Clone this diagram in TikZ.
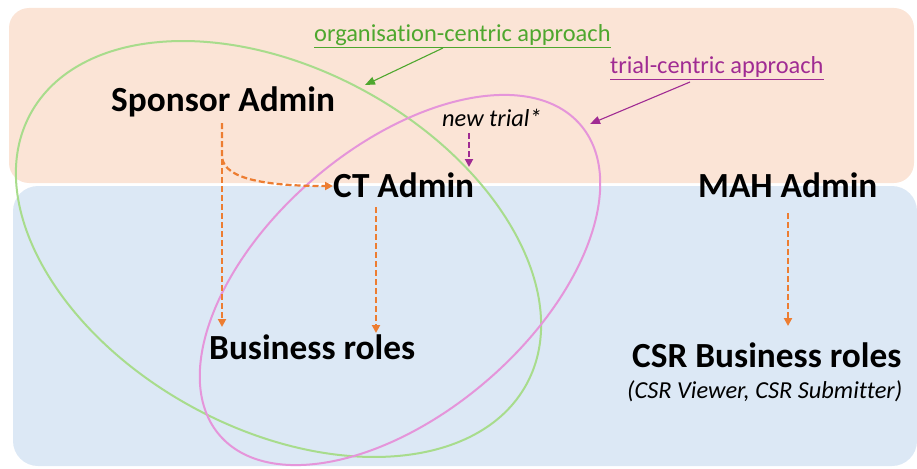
\documentclass[tikz,border=0pt]{standalone}
\usepackage{fontspec}
\setmainfont[Ligatures={NoCommon}]{Carlito}
\usetikzlibrary{arrows.meta}
\definecolor{peach}{HTML}{FBE4D6}
\definecolor{lblue}{HTML}{DCE8F5}
\definecolor{ogreen}{HTML}{A8DC8C}
\definecolor{opink}{HTML}{E595DA}
\definecolor{lgreen}{HTML}{4EA72E}
\definecolor{lpurple}{HTML}{A02B93}
\definecolor{oorange}{HTML}{ED7D31}
\begin{document}
\begin{tikzpicture}[x=1pt,y=-1pt,
  bigtxt/.style={inner sep=0pt, anchor=base west, font=\fontsize{35.3}{40}\selectfont\bfseries},
  smalltxt/.style={inner sep=0pt, anchor=base west, font=\fontsize{24.4}{28}\selectfont},
  oval/.style={line width=2pt},
  oarrow/.style={draw=oorange, line width=2.2pt, dash pattern=on 6pt off 3pt, -{Triangle[length=8pt,width=8pt]}},
  parrow/.style={draw=lpurple, line width=2.2pt, dash pattern=on 6pt off 3pt, -{Triangle[length=8pt,width=8pt]}},
  thinarrow/.style={line width=1.1pt, -{Triangle[length=10pt,width=8pt]}}
]
\useasboundingbox (0,0) rectangle (917,468);
% backgrounds
\fill[peach, rounded corners=20pt] (9,8) rectangle (914,183);
\fill[lblue, rounded corners=25pt] (13,186) rectangle (917,466);
% ovals
\draw[oval, ogreen, rotate around={-28.6:(278.5,249)}] (278.5,249) ellipse [x radius=282.5, y radius=180];
\draw[oval, opink, rotate around={40.7:(400,280)}] (400,280) ellipse [x radius=238, y radius=133];
% texts
\node[bigtxt] (sponsor) at (111,111) {Sponsor Admin};
\node[bigtxt] (ct) at (333,197) {CT Admin};
\node[bigtxt] (mah) at (698,197) {MAH Admin};
\node[bigtxt] (bus) at (209,359) {Business roles};
\node[bigtxt] (csr) at (632,367) {CSR Business roles};
\node[smalltxt, font=\fontsize{24.4}{28}\selectfont\itshape] (csrsub) at (627,398) {(CSR Viewer, CSR Submitter)};
\node[smalltxt, font=\fontsize{24.4}{28}\selectfont\itshape] (newtrial) at (442,126) {new trial*};
\node[smalltxt, text=lgreen] (org) at (314,42) {\underline{organisation-centric approach}};
\node[smalltxt, text=lpurple] (trial) at (610,74) {\underline{trial-centric approach}};
% coordinates
\coordinate (orgA) at (443,48);
\coordinate (orgB) at (365,85);
\coordinate (trialA) at (690,82);
\coordinate (trialB) at (590,124);
\coordinate (ntA) at (469,133);
\coordinate (ntB) at (469,167);
\coordinate (spA) at (222,123);
\coordinate (spK) at (222,157);
\coordinate (spB) at (222,327);
\coordinate (ctW) at (333,186);
\coordinate (ctA) at (376,207);
\coordinate (ctB) at (376,333);
\coordinate (mahA) at (788,213);
\coordinate (mahB) at (788,326);
% connectors
\draw[thinarrow, lgreen] (orgA) -- (orgB);
\draw[thinarrow, lpurple] (trialA) -- (trialB);
\draw[parrow] (ntA) -- (ntB);
\draw[oarrow] (spA) -- (spB);
\draw[oarrow] (spA) -- (spK) .. controls (224,180) and (270,186) .. (ctW);
\draw[oarrow] (ctA) -- (ctB);
\draw[oarrow] (mahA) -- (mahB);
\end{tikzpicture}
\end{document}
